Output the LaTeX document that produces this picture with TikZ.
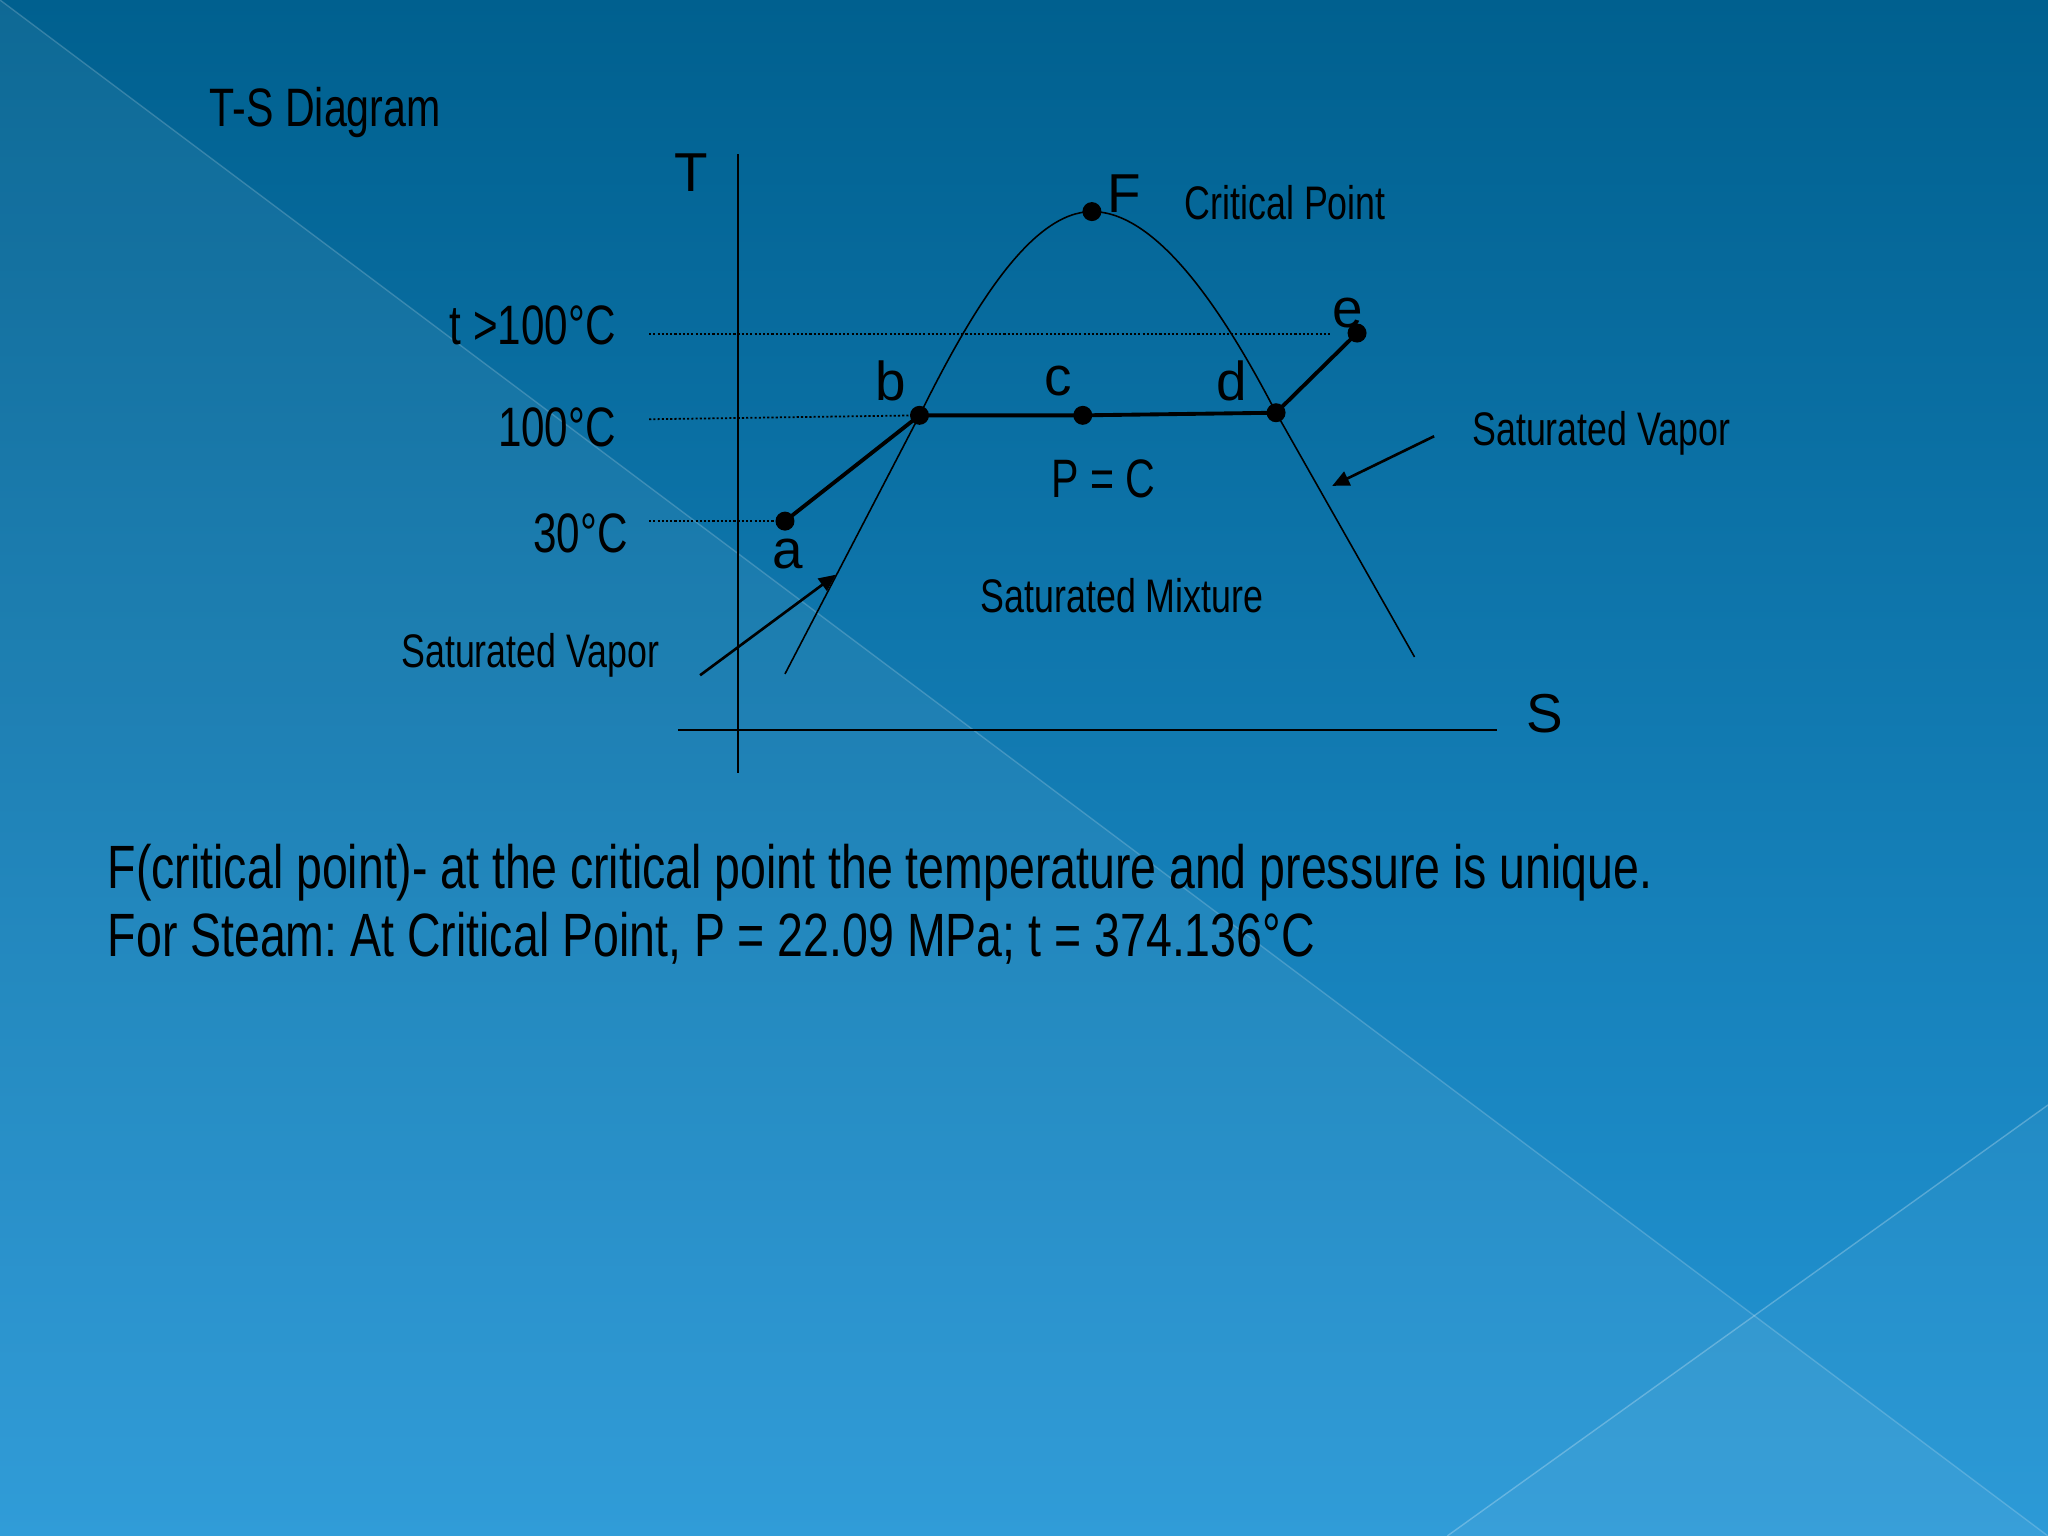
\documentclass[tikz,border=0pt]{standalone}
\usepackage{fontspec}
\setmainfont{Liberation Sans}[FakeStretch=0.76]
\newfontfamily\letterfont{Liberation Sans}
\usetikzlibrary{arrows.meta}

\definecolor{slidetop}{RGB}{0,96,143}
\definecolor{slidebottom}{RGB}{36,150,214}

\begin{document}
\frenchspacing
\begin{tikzpicture}[x=0.013061cm,y=-0.013061cm,
  dot/.style={circle,fill=black,inner sep=0pt,minimum size=1.9mm},
  letter/.style={font=\fontsize{15.6}{18}\letterfont,inner sep=0pt},
  lbl/.style={font=\fontsize{13.4}{15}\selectfont,inner sep=0pt},
  temp/.style={font=\fontsize{15.8}{18}\selectfont,inner sep=0pt,anchor=east},
  curve/.style={line width=0.45pt},
  stateline/.style={line width=1.1pt},
  guide/.style={dash pattern=on 0.6pt off 0.6pt,line width=0.5pt},
  pointer/.style={line width=0.75pt,-{Triangle[length=1.7mm,width=1.5mm]}},
  sheen/.style={white,opacity=0.25,line width=0.4pt}]

\useasboundingbox (0,0) rectangle (1568,1176);
\shade[top color=slidetop,bottom color=slidebottom] (0,0) rectangle (1568,1176);
\fill[white,opacity=0.06] (0,0) -- (1568,1176) -- (0,1176) -- cycle;
\fill[white,opacity=0.04] (1108,1176) -- (1568,846) -- (1568,1176) -- cycle;
\draw[sheen,opacity=0.18] (0,0) -- (1568,1176);
\draw[sheen] (1108,1176) -- (1568,846);

\node[font=\fontsize{15.4}{18}\selectfont,inner sep=0pt] (title) at (249,86) {T-S Diagram};

\coordinate (Ttop) at (565,118);
\coordinate (Tbot) at (565,592);
\coordinate (Sleft) at (519,559);
\coordinate (Sright) at (1146,559);
\draw[curve] (Ttop) -- (Tbot);
\draw[line width=0.7pt] (Sleft) -- (Sright);
\node[letter] (Tlbl) at (529,132) {T};
\node[letter] (Slbl) at (1183,546) {S};

\node[dot] (a) at (601,399) {};
\node[dot] (b) at (704,318) {};
\node[dot] (c) at (829,318) {};
\node[dot] (d) at (977,316) {};
\node[dot] (e) at (1039,255) {};
\node[dot] (F) at (836,162) {};

\coordinate (domeL) at (601,516);
\coordinate (domeR) at (1083,503);
\draw[curve] (domeL) -- (b.center) .. controls (745,235) and (790,162) .. (F.center)
  .. controls (885,162) and (935,235) .. (d.center) -- (domeR);

\draw[stateline] (a.center) -- (b.center) -- (c.center) -- (d.center) -- (e.center);

\node[temp] (hot) at (472,249) {t >100°C};
\node[temp] (boil) at (472,327) {100°C};
\node[temp] (cold) at (481,408) {30°C};
\coordinate (hotL) at (497,256);
\coordinate (boilL) at (497,321);
\coordinate (coldL) at (497,399);
\draw[guide] (hotL) -- (1020,256);
\draw[guide] (boilL) -- (b.center);
\draw[guide] (coldL) -- (a.center);

\node[letter] (albl) at (603,424) {a};
\node[letter] (blbl) at (682,292) {b};
\node[letter] (clbl) at (810,292) {c};
\node[letter] (dlbl) at (943,292) {d};
\node[letter] (elbl) at (1032,240) {e};
\node[letter] (Flbl) at (861,148) {F};
\node[lbl] (crit) at (984,155) {Critical Point};
\node[font=\fontsize{15.4}{18}\selectfont,inner sep=0pt] (pc) at (845,367) {P = C};
\node[lbl] (mix) at (859,456) {Saturated Mixture};
\node[lbl] (vapR) at (1226,332) {Saturated Vapor};
\node[lbl] (vapL) at (406,502) {Saturated Vapor};

\coordinate (arrR) at (1098,334);
\coordinate (tipR) at (1020,372);
\coordinate (arrL) at (536,517);
\coordinate (tipL) at (640,440);
\draw[pointer] (arrR) -- (tipR);
\draw[pointer] (arrL) -- (tipL);

\node[font=\fontsize{17.4}{19.5}\selectfont,inner sep=0pt,anchor=base west] (note1) at (82,680)
  {F(critical point)- at the critical point the temperature and pressure is unique.};
\node[font=\fontsize{17.4}{19.5}\selectfont,inner sep=0pt,anchor=base west] (note2) at (82,732)
  {For Steam: At Critical Point, P = 22.09 MPa; t = 374.136°C};

\end{tikzpicture}
\end{document}
